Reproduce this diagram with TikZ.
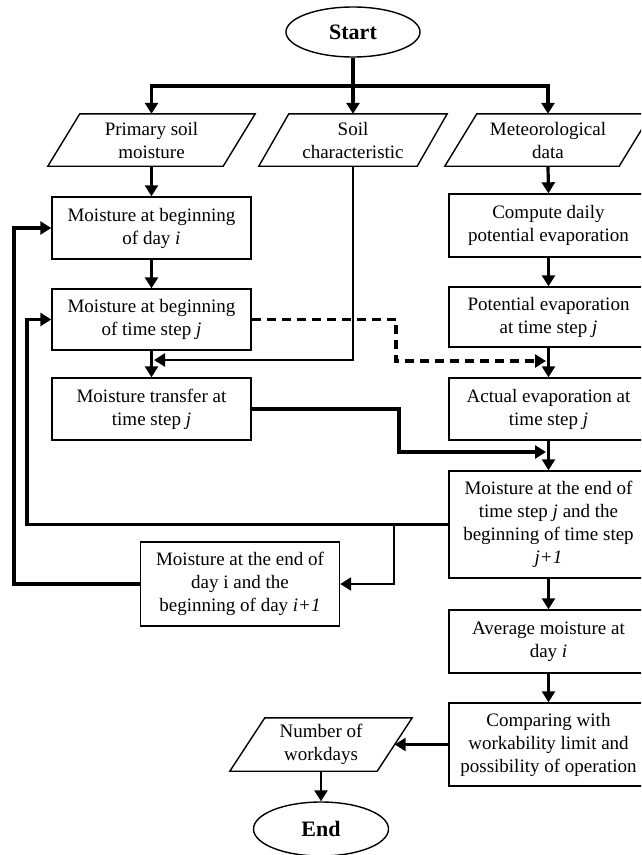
\documentclass[tikz,border=0pt]{standalone}
\usepackage{fontspec}
\setmainfont{Liberation Serif}
\usetikzlibrary{arrows.meta,shapes.geometric}
\newcommand\fs{\fontsize{19}{23}\selectfont}
\newcommand\drawpara[2]{\draw[line width=1.4pt] ([xshift=-#2]#1.south west) -- ([xshift=#2]#1.north west) -- ([xshift=#2]#1.north east) -- ([xshift=-#2]#1.south east) -- cycle;}
\begin{document}
\begin{tikzpicture}[x=1pt,y=-1pt,
  pbox/.style={draw,line width=1.4pt,minimum width=199pt,align=center,font=\fs,inner sep=0pt},
  io/.style={align=center,font=\fs,inner sep=0pt,minimum height=52pt},
  term/.style={draw,ellipse,line width=1.4pt,minimum width=134pt,minimum height=50pt,font=\fontsize{22}{26}\selectfont\bfseries,inner sep=0pt},
  conn/.style={line width=3.2pt,-{Triangle[width=13pt,length=11pt]}},
  thinconn/.style={line width=2.4pt,-{Triangle[width=13pt,length=11pt]}},
  dconn/.style={conn,dash pattern=on 9pt off 6pt}]
\useasboundingbox (0,0) rectangle (641,855);
\fill[white] (0,0) rectangle (641,855);
\clip (0,0) rectangle (641,855);
% nodes
\node[term] (start) at (353,32) {Start};
\node[io,minimum width=175pt] (p1) at (151.5,140) {Primary soil\\moisture};
\node[io,minimum width=158pt] (soil) at (353,140) {Soil\\characteristic};
\node[io,minimum width=174pt] (met) at (548,140) {Meteorological\\data};
\drawpara{p1}{16pt}
\drawpara{soil}{15pt}
\drawpara{met}{16pt}
\node[pbox,minimum height=62pt] (b1) at (151.5,228) {Moisture at beginning\\of day \textit{i}};
\node[pbox,minimum height=61pt] (b2) at (151.5,319.5) {Moisture at beginning\\of time step \textit{j}};
\node[pbox,minimum height=62pt] (b3) at (151.5,409) {Moisture transfer at\\time step \textit{j}};
\node[pbox,minimum height=84pt] (eod) at (240,584) {Moisture at the end of\\day i and the\\beginning of day \textit{i+1}};
\node[pbox,minimum height=63pt] (cp) at (548.5,225.5) {Compute daily\\potential evaporation};
\node[pbox,minimum height=60pt] (pe) at (548.5,317) {Potential evaporation\\at time step \textit{j}};
\node[pbox,minimum height=62pt] (ae) at (548.5,409) {Actual evaporation at\\time step \textit{j}};
\node[pbox,minimum height=107pt] (es) at (548.5,524.5) {Moisture at the end of\\time step \textit{j} and the\\beginning of time step\\\textit{j+1}};
\node[pbox,minimum height=63pt] (avg) at (548.5,641.5) {Average moisture at\\day \textit{i}};
\node[pbox,minimum height=83pt] (cmp) at (548.5,744.5) {Comparing with\\workability limit and\\possibility of operation};
\node[io,minimum width=147pt,minimum height=53pt] (num) at (321,744.5) {Number of\\workdays};
\drawpara{num}{17.5pt}
\node[term,minimum width=135pt,minimum height=54pt] (end) at (321,829) {End};
% coordinates
\coordinate (hub) at (353,86);
\coordinate (sj) at (154,360);
\coordinate (dk) at (396,0);
\coordinate (dj) at (546,361);
\coordinate (tk) at (399,0);
\coordinate (tj) at (546,452);
\coordinate (fa) at (27,0);
\coordinate (fb) at (14,0);
\coordinate (br) at (394,524.5);
% connectors
\draw[line width=4pt] (start.south) -- (hub);
\draw[conn] (hub) -| (p1.north);
\draw[conn] (hub) -| (met.north);
\draw[conn] (hub) -- (soil.north);
\draw[conn] (p1.south) -- (b1.north);
\draw[conn] (met.south) -- (cp.north);
\draw[conn] (b1) -- (b2);
\draw[conn] (b2) -- (b3);
\draw[conn] (cp) -- (pe);
\draw[thinconn] (pe) -- (ae);
\draw[thinconn] (ae) -- (es);
\draw[thinconn] (es) -- (avg);
\draw[thinconn] (avg) -- (cmp);
\draw[thinconn] (cmp.west) -- (num.east);
\draw[thinconn] (num.south) -- (end.north);
\draw[thinconn] (soil.south) |- (sj);
\draw[dconn] (b2.east) -- (b2.east -| dk) |- (dj);
\draw[conn] (b3.east) -- (b3.east -| tk) |- (tj);
\draw[conn] (es.west) -- (es.west -| fa) |- (b2.west);
\draw[thinconn] (br) |- (eod.east);
\draw[conn] (eod.west) -- (eod.west -| fb) |- (b1.west);
\end{tikzpicture}
\end{document}
